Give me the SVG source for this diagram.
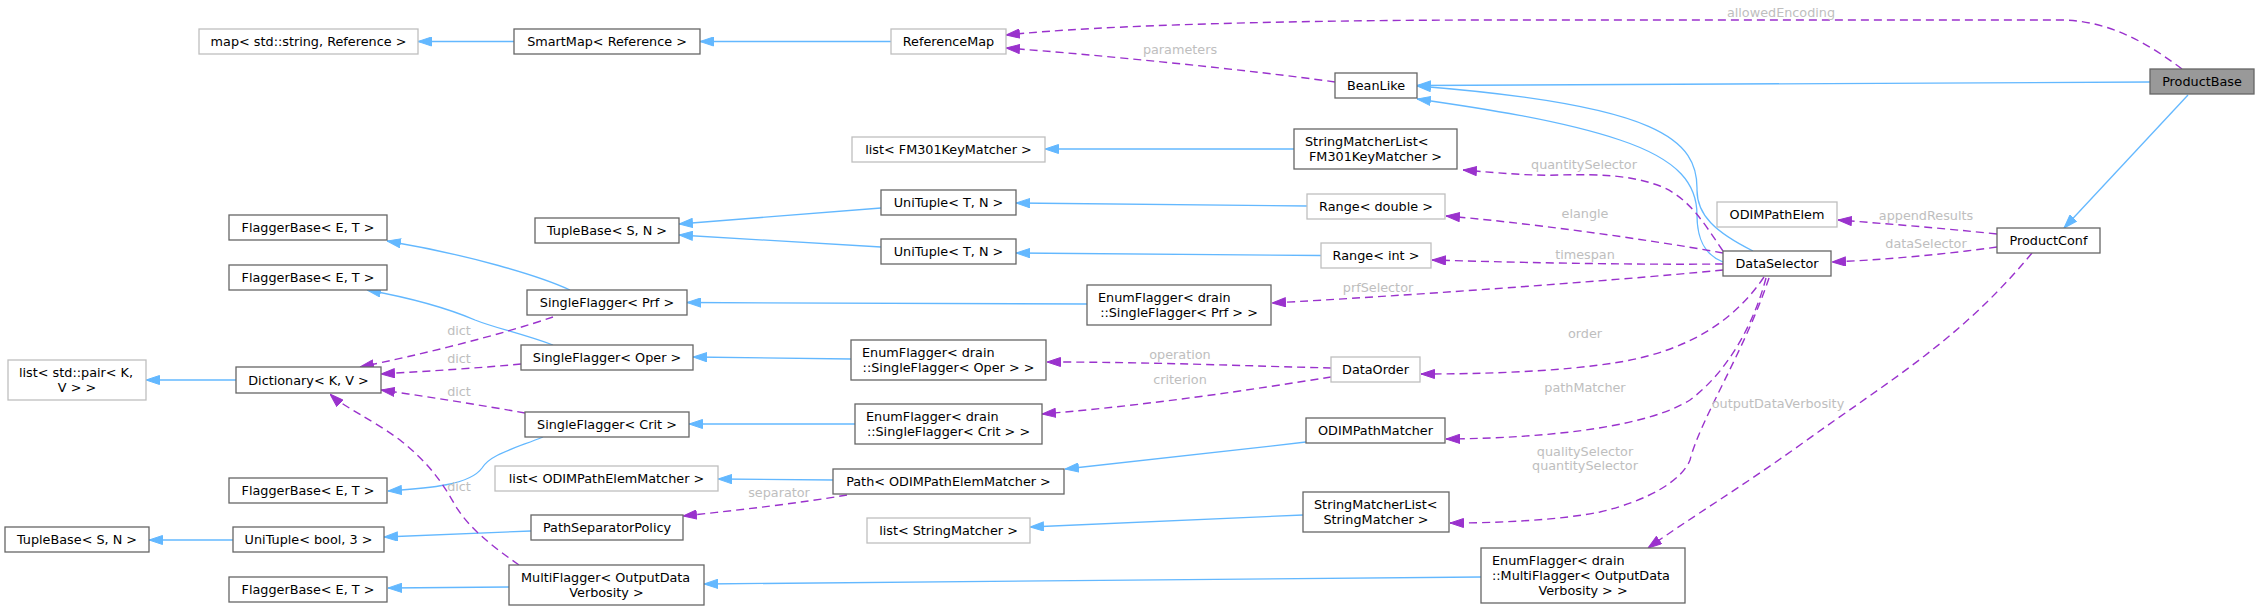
<svg xmlns="http://www.w3.org/2000/svg" width="2255" height="611" viewBox="0 0 2255 611">
<style>
.n rect{fill:#fff;stroke:#666;stroke-width:1.3}
.n.l rect{stroke:#bfbfbf}
.n.cur rect{fill:#999;stroke:#666}
text{font-family:"DejaVu Sans","Liberation Sans",sans-serif;font-size:12.8px;fill:#000}
.n text{text-anchor:middle}
.n text.s{text-anchor:start}
.inh{fill:none;stroke:#63b8ff;stroke-width:1.3;marker-end:url(#ab)}
.rel{fill:none;stroke:#9a32cd;stroke-width:1.4;stroke-dasharray:8,5;marker-end:url(#ap)}
.lb{fill:#bebebe;text-anchor:middle}
</style>
<defs>
<marker id="ab" markerWidth="14" markerHeight="10" refX="14" refY="5" orient="auto" markerUnits="userSpaceOnUse"><path d="M0.5,0.5 L14,5 L0.5,9.5 z" fill="#63b8ff" stroke="#63b8ff" stroke-width="1"/></marker>
<marker id="ap" markerWidth="14" markerHeight="10" refX="14" refY="5" orient="auto" markerUnits="userSpaceOnUse"><path d="M0.5,0.5 L14,5 L0.5,9.5 z" fill="#9a32cd" stroke="#9a32cd" stroke-width="1"/></marker>
</defs>
<rect width="2255" height="611" fill="#fff"/>
<g id="connectors">
<path class="inh" d="M514,41.5 L418,41.5"/>
<path class="inh" d="M891,41.5 L700,41.5"/>
<path class="inh" d="M2150,82 L1417,85.5"/>
<path class="inh" d="M1753,251 C1715,232 1697,215 1697,190 C1698,140 1660,105 1417,86"/>
<path class="inh" d="M1723,262 C1705,255 1697,240 1697,215 C1697,185 1680,160 1620,140 C1560,120 1480,108 1417,99"/>
<path class="inh" d="M1294,149 L1045,149"/>
<path class="inh" d="M881,208 L679,224"/>
<path class="inh" d="M881,247 L679,235"/>
<path class="inh" d="M1307,206 L1016,203"/>
<path class="inh" d="M1321,255.5 L1016,253"/>
<path class="inh" d="M570,290 C540,276 470,255 387,241"/>
<path class="inh" d="M553,345 C520,333 495,328 475,320 C440,305 400,296 367,290"/>
<path class="inh" d="M1087,304 L687,302.5"/>
<path class="inh" d="M851,359 L693,357"/>
<path class="inh" d="M855,424 L689,424"/>
<path class="inh" d="M543,437 C510,450 490,455 482,468 C470,485 430,488 388,491"/>
<path class="inh" d="M236,380 L146,380"/>
<path class="inh" d="M833,480 L718,479"/>
<path class="inh" d="M1306,442 C1220,452 1130,462 1065,469"/>
<path class="inh" d="M233,540 L149,540"/>
<path class="inh" d="M531,531 L384,537"/>
<path class="inh" d="M509,587 L388,588"/>
<path class="inh" d="M1481,577 L704,584"/>
<path class="inh" d="M1303,515 L1030,527"/>
<path class="inh" d="M2188,95 L2064,228"/>

<path class="rel" d="M2182,69 C2150,45 2110,20 2060,20 L1500,20 C1300,20 1100,25 1006,35"/>
<path class="rel" d="M1335,82 C1250,70 1100,55 1006,48"/>
<path class="rel" d="M1723,251 C1705,225 1690,198 1660,186 C1630,175 1600,174 1560,175 C1530,176 1500,173 1463,170"/>
<path class="rel" d="M1723,253 C1640,238 1520,222 1446,216"/>
<path class="rel" d="M1723,264 C1620,265 1500,262 1432,260"/>
<path class="rel" d="M1723,270 C1600,282 1400,296 1272,303"/>
<path class="rel" d="M1997,234 C1940,228 1890,224 1838,220"/>
<path class="rel" d="M1997,247 C1940,255 1880,260 1832,262"/>
<path class="rel" d="M1764,277 C1735,320 1690,350 1620,362 C1560,372 1480,374 1421,374"/>
<path class="rel" d="M1766,278 C1755,320 1730,370 1690,400 C1650,425 1560,438 1446,439"/>
<path class="rel" d="M1769,278 C1745,350 1700,420 1690,460 C1682,480 1650,500 1600,512 C1560,520 1500,523 1450,523"/>
<path class="rel" d="M2032,253 C1960,340 1890,380 1800,445 C1740,488 1690,518 1648,548"/>
<path class="rel" d="M1331,368 C1250,366 1150,362 1047,362"/>
<path class="rel" d="M1331,377 C1250,390 1150,405 1042,414"/>
<path class="rel" d="M847,495 C800,503 740,510 683,516"/>
<path class="rel" d="M553,317 C500,335 420,355 360,367"/>
<path class="rel" d="M521,364 C480,368 430,371 381,374"/>
<path class="rel" d="M525,413 C480,405 430,397 381,390"/>
<path class="rel" d="M519,565 C495,548 470,530 455,505 C440,478 425,460 400,440 C370,418 345,408 330,394"/>

<text class="lb" x="1781" y="16.5">allowedEncoding</text>
<text class="lb" x="1180" y="53.5">parameters</text>
<text class="lb" x="1584" y="168.5">quantitySelector</text>
<text class="lb" x="1585" y="217.5">elangle</text>
<text class="lb" x="1585" y="258.5">timespan</text>
<text class="lb" x="1378" y="291.5">prfSelector</text>
<text class="lb" x="1926" y="219.5">appendResults</text>
<text class="lb" x="1926" y="247.5">dataSelector</text>
<text class="lb" x="1585" y="337.5">order</text>
<text class="lb" x="1180" y="358.5">operation</text>
<text class="lb" x="1180" y="383.5">criterion</text>
<text class="lb" x="1585" y="391.5">pathMatcher</text>
<text class="lb" x="1778" y="407.5">outputDataVerbosity</text>
<text class="lb" x="1585" y="455.5">qualitySelector</text>
<text class="lb" x="1585" y="470">quantitySelector</text>
<text class="lb" x="779" y="496.5">separator</text>
<text class="lb" x="459" y="334.5">dict</text>
<text class="lb" x="459" y="362.5">dict</text>
<text class="lb" x="459" y="395.5">dict</text>
<text class="lb" x="459" y="490.5">dict</text>
</g>

<g id="n_map" class="n l"><rect x="199" y="29" width="219" height="25"/><text x="308.5" y="46">map&lt; std::string, Reference &gt;</text></g>
<g id="n_smartmap" class="n"><rect x="514" y="29" width="186" height="25"/><text x="607" y="46">SmartMap&lt; Reference &gt;</text></g>
<g id="n_referencemap" class="n l"><rect x="891" y="29" width="115" height="25"/><text x="948.5" y="46">ReferenceMap</text></g>
<g id="n_beanlike" class="n"><rect x="1335" y="73" width="82" height="25"/><text x="1376" y="90">BeanLike</text></g>
<g id="n_productbase" class="n cur"><rect x="2150" y="69" width="104" height="25"/><text x="2202" y="86">ProductBase</text></g>
<g id="n_listfm301" class="n l"><rect x="852" y="137" width="193" height="25"/><text x="948.5" y="154">list&lt; FM301KeyMatcher &gt;</text></g>
<g id="n_smlfm301" class="n"><rect x="1294" y="129" width="163" height="40"/><text class="s" x="1305" y="146">StringMatcherList&lt;</text><text x="1375.5" y="161">FM301KeyMatcher &gt;</text></g>
<g id="n_odimpathelem" class="n l"><rect x="1717" y="202" width="120" height="25"/><text x="1777" y="219">ODIMPathElem</text></g>
<g id="n_productconf" class="n"><rect x="1997" y="228" width="103" height="25"/><text x="2048.5" y="245">ProductConf</text></g>
<g id="n_dataselector" class="n"><rect x="1723" y="251" width="108" height="25"/><text x="1777" y="268">DataSelector</text></g>
<g id="n_tuplebase1" class="n"><rect x="535" y="218" width="144" height="25"/><text x="607" y="235">TupleBase&lt; S, N &gt;</text></g>
<g id="n_unituple1" class="n"><rect x="881" y="190" width="135" height="25"/><text x="948.5" y="207">UniTuple&lt; T, N &gt;</text></g>
<g id="n_unituple2" class="n"><rect x="881" y="239" width="135" height="25"/><text x="948.5" y="256">UniTuple&lt; T, N &gt;</text></g>
<g id="n_rangedouble" class="n l"><rect x="1307" y="194" width="138" height="25"/><text x="1376" y="211">Range&lt; double &gt;</text></g>
<g id="n_rangeint" class="n l"><rect x="1321" y="243" width="110" height="25"/><text x="1376" y="260">Range&lt; int &gt;</text></g>
<g id="n_flaggerbase1" class="n"><rect x="229" y="215" width="158" height="25"/><text x="308" y="232">FlaggerBase&lt; E, T &gt;</text></g>
<g id="n_flaggerbase2" class="n"><rect x="229" y="265" width="158" height="25"/><text x="308" y="282">FlaggerBase&lt; E, T &gt;</text></g>
<g id="n_sfprf" class="n"><rect x="527" y="290" width="160" height="25"/><text x="607" y="307">SingleFlagger&lt; Prf &gt;</text></g>
<g id="n_efprf" class="n"><rect x="1087" y="285" width="184" height="40"/><text class="s" x="1098" y="302">EnumFlagger&lt; drain</text><text x="1179" y="317">::SingleFlagger&lt; Prf &gt; &gt;</text></g>
<g id="n_listpair" class="n l"><rect x="8" y="360" width="138" height="40"/><text class="s" x="19" y="377">list&lt; std::pair&lt; K,</text><text x="77" y="392">V &gt; &gt;</text></g>
<g id="n_dictionary" class="n"><rect x="236" y="367" width="145" height="26"/><text x="308.5" y="384.5">Dictionary&lt; K, V &gt;</text></g>
<g id="n_sfoper" class="n"><rect x="521" y="345" width="172" height="25"/><text x="607" y="362">SingleFlagger&lt; Oper &gt;</text></g>
<g id="n_efoper" class="n"><rect x="851" y="340" width="195" height="40"/><text class="s" x="862" y="357">EnumFlagger&lt; drain</text><text x="948.5" y="372">::SingleFlagger&lt; Oper &gt; &gt;</text></g>
<g id="n_dataorder" class="n l"><rect x="1331" y="357" width="89" height="25"/><text x="1375.5" y="374">DataOrder</text></g>
<g id="n_sfcrit" class="n"><rect x="525" y="412" width="164" height="25"/><text x="607" y="429">SingleFlagger&lt; Crit &gt;</text></g>
<g id="n_efcrit" class="n"><rect x="855" y="404" width="187" height="40"/><text class="s" x="866" y="421">EnumFlagger&lt; drain</text><text x="948.5" y="436">::SingleFlagger&lt; Crit &gt; &gt;</text></g>
<g id="n_odimpathmatcher" class="n"><rect x="1306" y="418" width="139" height="25"/><text x="1375.5" y="435">ODIMPathMatcher</text></g>
<g id="n_listodimpem" class="n l"><rect x="495" y="466" width="223" height="25"/><text x="606.5" y="483">list&lt; ODIMPathElemMatcher &gt;</text></g>
<g id="n_path" class="n"><rect x="833" y="469" width="231" height="25"/><text x="948.5" y="486">Path&lt; ODIMPathElemMatcher &gt;</text></g>
<g id="n_flaggerbase3" class="n"><rect x="229" y="478" width="158" height="25"/><text x="308" y="495">FlaggerBase&lt; E, T &gt;</text></g>
<g id="n_smlsm" class="n"><rect x="1303" y="492" width="146" height="40"/><text class="s" x="1314" y="509">StringMatcherList&lt;</text><text x="1376" y="524">StringMatcher &gt;</text></g>
<g id="n_pathsep" class="n"><rect x="531" y="515" width="152" height="25"/><text x="607" y="532">PathSeparatorPolicy</text></g>
<g id="n_liststringmatcher" class="n l"><rect x="867" y="518" width="163" height="25"/><text x="948.5" y="535">list&lt; StringMatcher &gt;</text></g>
<g id="n_tuplebase2" class="n"><rect x="5" y="527" width="144" height="25"/><text x="77" y="544">TupleBase&lt; S, N &gt;</text></g>
<g id="n_unituplebool" class="n"><rect x="233" y="527" width="151" height="25"/><text x="308.5" y="544">UniTuple&lt; bool, 3 &gt;</text></g>
<g id="n_multiflagger" class="n"><rect x="509" y="565" width="195" height="40"/><text class="s" x="521" y="582">MultiFlagger&lt; OutputData</text><text x="606.5" y="597">Verbosity &gt;</text></g>
<g id="n_flaggerbase4" class="n"><rect x="229" y="577" width="158" height="25"/><text x="308" y="594">FlaggerBase&lt; E, T &gt;</text></g>
<g id="n_efmulti" class="n"><rect x="1481" y="548" width="204" height="55"/><text class="s" x="1492" y="565">EnumFlagger&lt; drain</text><text class="s" x="1492" y="580">::MultiFlagger&lt; OutputData</text><text x="1583" y="595">Verbosity &gt; &gt;</text></g>
</svg>
